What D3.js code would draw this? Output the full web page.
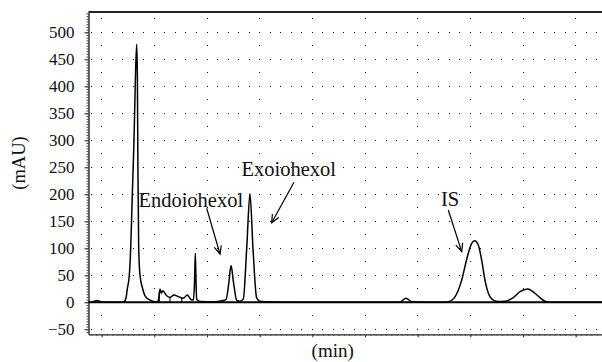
<!DOCTYPE html>
<html>
<head>
<meta charset="utf-8">
<script src="https://cdn.jsdelivr.net/npm/d3@7"></script>
<style>
  html, body { margin: 0; padding: 0; background: #fff; }
  svg { display: block; }
  svg text { font-family: "Liberation Serif", "Times New Roman", serif; }
</style>
</head>
<body>
<svg id="chart" width="602" height="362"></svg>
<script>
// Chromatogram trace: retention time (min) and detector response (mAU)
const times = [
  0.75, 0.816, 0.86, 0.911, 0.96, 1.006, 1.158, 1.348, 1.424, 1.462,
  1.487, 1.525, 1.551, 1.582, 1.614, 1.642, 1.665, 1.678, 1.688, 1.703,
  1.728, 1.779, 1.823, 1.918, 2.045, 2.075, 2.108, 2.132, 2.159, 2.235,
  2.297, 2.373, 2.455, 2.550, 2.626, 2.690, 2.740, 2.764, 2.778, 2.791,
  2.804, 2.867, 3.152, 3.285, 3.361, 3.412, 3.456, 3.507, 3.564, 3.626,
  3.689, 3.754, 3.816, 3.873, 3.943, 4.006, 4.196, 4.766, 5.905, 6.626,
  6.683, 6.731, 6.778, 6.826, 6.886, 7.424, 7.581, 7.708, 7.836, 7.942,
  8.026, 8.082, 8.151, 8.215, 8.278, 8.341, 8.436, 8.531, 8.658, 8.815,
  8.943, 9.089, 9.227, 9.322, 9.417, 9.512, 10.5
];
const absorbance = [
  0.3, 0.5, 2, 3.5, 2, 0.5, 0, 0, 1, 8,
  25, 50, 100, 200, 300, 420, 478, 420, 250, 100,
  50, 25, 12, 4, 0.5, 3, 24.6, 16.6, 21.5, 12,
  9, 13.5, 10.4, 7.4, 13.5, 5.6, 4, 40, 90.7, 40,
  5, 1.5, 1, 3, 5, 34, 68, 34, 4, 2,
  6, 100, 201, 100, 8, 2, 0.5, 0, 0, 0,
  1, 5, 7.4, 5, 1, 0, 1, 10, 41, 84,
  109, 114, 106, 78, 41, 17, 4, 1.5, 2, 8.5,
  19.6, 24.6, 16.7, 8.5, 2, 0, 0
];

// Integration drop lines under the early minor peaks
const markerTimes = [2.094, 2.297, 2.520];
const markerHeights = [18, 10, 7.5];

// Axis ticks and grid
const yTicks = [-50, 0, 50, 100, 150, 200, 250, 300, 350, 400, 450, 500];
const xGrid = [1, 2, 3, 4, 5, 6, 7, 8, 9, 10];

// Peak annotations (label centre / baseline, arrow start and tip)
const peakNames = ["Endoiohexol", "Exoiohexol", "IS"];
const labelTimes = [2.692, 4.551, 7.617];
const labelValues = [175.9, 234.4, 178.3];
const arrowStartTimes = [2.994, 4.652, 7.581];
const arrowStartValues = [174.1, 222.2, 170.9];
const arrowEndTimes = [3.247, 4.228, 7.836];
const arrowEndValues = [89.4, 147.4, 93.7];

const svg = d3.select("#chart");
const plotLeft = 88.5, plotRight = 602, plotTop = 12, plotBottom = 334.3;

const x = d3.scaleLinear().domain([0.75, 10.5]).range([plotLeft, plotRight]);
const y = d3.scaleLinear().domain([-59.3, 537.6]).range([plotBottom, plotTop]);

// Dotted grid: one-pixel dots along each grid line
const dots = [];
yTicks.filter(v => v !== 0).forEach(v => {
  d3.range(0.8, 10.45, 0.2).forEach(t => dots.push([t, v]));
});
xGrid.forEach(t => {
  d3.range(-50, 530, 25).forEach(v => dots.push([t, v]));
});
svg.append("g").attr("shape-rendering", "crispEdges")
  .selectAll("rect").data(dots).join("rect")
  .attr("x", d => Math.floor(x(d[0])))
  .attr("y", d => Math.floor(y(d[1])))
  .attr("width", 1).attr("height", 1)
  .attr("fill", "#111");

// Frame top
svg.append("line")
  .attr("x1", plotLeft).attr("x2", plotRight)
  .attr("y1", plotTop).attr("y2", plotTop)
  .attr("stroke", "#222").attr("stroke-width", 2);

// Y axis with major and minor ticks
const yAxis = svg.append("g").attr("transform", `translate(${plotLeft},0)`)
  .call(d3.axisLeft(y).tickValues(yTicks).tickSize(4).tickSizeOuter(0).tickPadding(10)
    .tickFormat(d => d < 0 ? "\u2212" + Math.abs(d) : d));
yAxis.select(".domain").attr("stroke", "#222").attr("stroke-width", 1.4);
yAxis.selectAll(".tick line").attr("stroke", "#222");
yAxis.selectAll(".tick text")
  .style("font-family", "'Liberation Serif', serif")
  .style("font-size", "17px")
  .attr("fill", "#111");
svg.append("g").attr("transform", `translate(${plotLeft},0)`)
  .call(d3.axisLeft(y).tickValues(d3.range(-55, 536, 5)).tickSize(2).tickSizeOuter(0).tickFormat(""))
  .call(g => g.select(".domain").remove())
  .selectAll(".tick line").attr("stroke", "#444");

// X axis (unlabelled ticks)
const xAxis = svg.append("g").attr("transform", `translate(0,${plotBottom})`)
  .call(d3.axisBottom(x).tickValues(xGrid).tickSize(3).tickSizeOuter(0).tickFormat(""));
xAxis.select(".domain").attr("stroke", "#222").attr("stroke-width", 1.2);
xAxis.selectAll(".tick line").attr("stroke", "#222");
svg.append("g").attr("transform", `translate(0,${plotBottom})`)
  .call(d3.axisBottom(x).tickValues(d3.range(0.8, 10.45, 0.1)).tickSize(1.5).tickSizeOuter(0).tickFormat(""))
  .call(g => g.select(".domain").remove())
  .selectAll(".tick line").attr("stroke", "#444");

// Zero line
svg.append("line")
  .attr("x1", plotLeft).attr("x2", plotRight)
  .attr("y1", y(0)).attr("y2", y(0))
  .attr("stroke", "#000").attr("stroke-width", 2);

// Trace
const pts = times.map((t, i) => [t, absorbance[i]]);
svg.append("path")
  .datum(pts)
  .attr("fill", "none")
  .attr("stroke", "#000")
  .attr("stroke-width", 1.5)
  .attr("stroke-linejoin", "round")
  .attr("d", d3.line().x(d => x(d[0])).y(d => y(d[1])).curve(d3.curveMonotoneX));

// Drop lines
svg.append("g").selectAll("line").data(markerTimes).join("line")
  .attr("x1", d => x(d)).attr("x2", d => x(d))
  .attr("y1", (d, i) => y(markerHeights[i])).attr("y2", y(0))
  .attr("stroke", "#000").attr("stroke-width", 1.1);

// Arrow heads
svg.append("defs").append("marker")
  .attr("id", "head")
  .attr("viewBox", "-10 -5 12 10")
  .attr("refX", 0).attr("refY", 0)
  .attr("markerWidth", 12).attr("markerHeight", 10)
  .attr("markerUnits", "userSpaceOnUse")
  .attr("orient", "auto")
  .append("path")
  .attr("d", "M-8,-3.6 L0,0 L-8,3.6")
  .attr("fill", "none").attr("stroke", "#000").attr("stroke-width", 1.2);

const ann = svg.append("g");
ann.selectAll("line").data(peakNames).join("line")
  .attr("x1", (d, i) => x(arrowStartTimes[i]))
  .attr("y1", (d, i) => y(arrowStartValues[i]))
  .attr("x2", (d, i) => x(arrowEndTimes[i]))
  .attr("y2", (d, i) => y(arrowEndValues[i]))
  .attr("stroke", "#000").attr("stroke-width", 1.2)
  .attr("marker-end", "url(#head)");

ann.selectAll("text").data(peakNames).join("text")
  .attr("x", (d, i) => x(labelTimes[i]))
  .attr("y", (d, i) => y(labelValues[i]))
  .attr("text-anchor", "middle")
  .style("font-size", "20.5px")
  .attr("fill", "#111")
  .text(d => d);

// Axis titles
svg.append("text")
  .attr("x", 332.7).attr("y", 357)
  .attr("text-anchor", "middle")
  .style("font-size", "19px").attr("fill", "#111")
  .text("(min)");
svg.append("text")
  .attr("transform", "translate(25,163) rotate(-90)")
  .attr("text-anchor", "middle")
  .style("font-size", "18.5px").attr("fill", "#111")
  .text("(mAU)");
</script>
</body>
</html>
